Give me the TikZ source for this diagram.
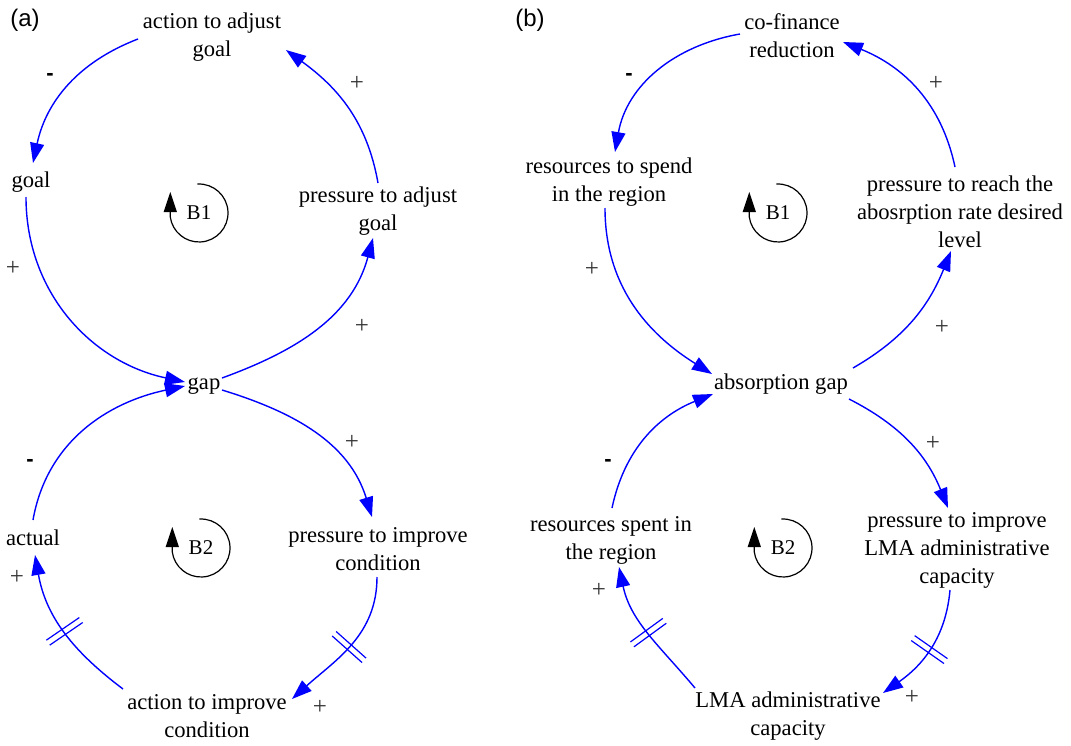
\documentclass[tikz,border=0pt]{standalone}
\usepackage{fontspec}
\setmainfont{Liberation Serif}
\newfontfamily\labelsans{Liberation Sans}
\usetikzlibrary{arrows.meta,decorations.markings}
\definecolor{linkblue}{RGB}{0,0,255}
\tikzset{
  var/.style={align=center, inner sep=0pt, font=\fontsize{22.6}{28}\selectfont},
  loopname/.style={inner sep=0pt, font=\fontsize{21}{24}\selectfont},
  panel/.style={inner sep=0pt, font=\labelsans\fontsize{24}{28}\selectfont},
  plus/.style={inner sep=0pt, text=black!80, font=\fontsize{25}{28}\selectfont},
  minus/.style={inner sep=0pt, font=\labelsans\bfseries\fontsize{22}{24}\selectfont},
  flow/.style={draw=linkblue, line width=1.4pt, -{Triangle[length=20pt,width=14pt]}},
  delayed/.style={postaction={decorate, decoration={markings,
      mark=at position #1 with {\draw[-, linkblue, line width=1.2pt]
        (-3pt,-20pt) -- (-3pt,20pt) (3pt,-20pt) -- (3pt,20pt);}}}},
  looparrow/.style={draw=black, line width=1.2pt, -{Triangle[length=20pt,width=13pt]}}
}
\begin{document}
\begin{tikzpicture}[x=1pt,y=1pt]
\useasboundingbox (0,0) rectangle (1071,-745);

% ---------------- panel (a) ----------------
\node[panel] (pa) at (25,-20) {(a)};
\node[var] (ag) at (212,-37) {action to adjust\\goal};
\node[var] (goal) at (31,-182) {goal};
\node[var] (pg) at (378,-211) {pressure to adjust\\goal};
\node[var] (gap) at (204,-386) {gap};
\node[var] (actual) at (33,-538) {actual};
\node[var] (pc) at (378,-549) {pressure to improve\\condition};
\node[var] (ac) at (207,-716) {action to improve\\condition};

\node[loopname] (B1a) at (199,-213) {B1};
\node[loopname] (B2a) at (201,-548) {B2};
\draw[looparrow] ([shift={(93:29)}]B1a.center) arc[start angle=93, end angle=-172, radius=29] -- ++(0,25);
\draw[looparrow] ([shift={(93:29)}]B2a.center) arc[start angle=93, end angle=-172, radius=29] -- ++(0,25);

\draw[flow] ([shift={(-74,-2)}]ag.center) to[out=201,in=78] ([shift={(2,19)}]goal.center);
\draw[flow] ([shift={(-5,-15)}]goal.center) to[out=270,in=168] ([shift={(-19,4)}]gap.center);
\draw[flow] ([shift={(18,8)}]gap.center) to[out=20,in=255] ([shift={(-5,-27)}]pg.center);
\draw[flow] ([shift={(0,28)}]pg.center) to[out=100,in=324] ([shift={(74,-13)}]ag.center);
\draw[flow] ([shift={(18,-4)}]gap.center) to[out=343,in=107] ([shift={(-6,32)}]pc.center);
\draw[flow,delayed=0.5] ([shift={(-1,-28)}]pc.center) to[out=270,in=42] ([shift={(85,17)}]ac.center);
\draw[flow,delayed=0.5] ([shift={(-84,27)}]ac.center) to[out=143,in=280] ([shift={(2,-17)}]actual.center);
\draw[flow] ([shift={(0,18)}]actual.center) to[out=80,in=192] ([shift={(-19,0)}]gap.center);

\node[minus] (sa1) at (50,-77) {-};
\node[plus]  (sa2) at (357,-83) {+};
\node[plus]  (sa3) at (13,-268) {+};
\node[plus]  (sa4) at (362,-326) {+};
\node[plus]  (sa5) at (352,-442) {+};
\node[minus] (sa6) at (30,-463) {-};
\node[plus]  (sa7) at (17,-577) {+};
\node[plus]  (sa8) at (320,-707) {+};

% ---------------- panel (b) ----------------
\node[panel] (pb) at (530,-20) {(b)};
\node[var] (cof) at (792,-36) {co-finance\\reduction};
\node[var] (rs) at (609,-182) {resources to spend\\in the region};
\node[var] (pr) at (960,-212) {pressure to reach the\\abosrption rate desired\\level};
\node[var] (abg) at (781,-384) {absorption gap};
\node[var] (rsp) at (611,-540) {resources spent in\\the region};
\node[var] (pi) at (957,-550) {pressure to improve\\LMA administrative\\capacity};
\node[var] (lma) at (788,-716) {LMA administrative\\capacity};

\node[loopname] (B1b) at (778,-213) {B1};
\node[loopname] (B2b) at (783,-548) {B2};
\draw[looparrow] ([shift={(93:29)}]B1b.center) arc[start angle=93, end angle=-172, radius=29] -- ++(0,25);
\draw[looparrow] ([shift={(93:29)}]B2b.center) arc[start angle=93, end angle=-172, radius=29] -- ++(0,25);

\draw[flow] ([shift={(-52,2)}]cof.center) to[out=190,in=80] ([shift={(6,30)}]rs.center);
\draw[flow] ([shift={(-4,-26)}]rs.center) to[out=270,in=148] ([shift={(-69,10)}]abg.center);
\draw[flow] ([shift={(72,16)}]abg.center) to[out=30,in=248] ([shift={(-9,-39)}]pr.center);
\draw[flow] ([shift={(-5,45)}]pr.center) to[out=102,in=338] ([shift={(51,-6)}]cof.center);
\draw[flow] ([shift={(68,-15)}]abg.center) to[out=333,in=112] ([shift={(-9,42)}]pi.center);
\draw[flow,delayed=0.5] ([shift={(-7,-40)}]pi.center) to[out=265,in=35] ([shift={(95,23)}]lma.center);
\draw[flow,delayed=0.5] ([shift={(-93,28)}]lma.center) to[out=130,in=282] ([shift={(8,-27)}]rsp.center);
\draw[flow] ([shift={(1,32)}]rsp.center) to[out=78,in=202] ([shift={(-68,-10)}]abg.center);

\node[minus] (sb1) at (629,-77) {-};
\node[plus]  (sb2) at (936,-83) {+};
\node[plus]  (sb3) at (592,-269) {+};
\node[plus]  (sb4) at (942,-327) {+};
\node[plus]  (sb5) at (933,-443) {+};
\node[minus] (sb6) at (608,-463) {-};
\node[plus]  (sb7) at (599,-590) {+};
\node[plus]  (sb8) at (912,-697) {+};
\end{tikzpicture}
\end{document}
